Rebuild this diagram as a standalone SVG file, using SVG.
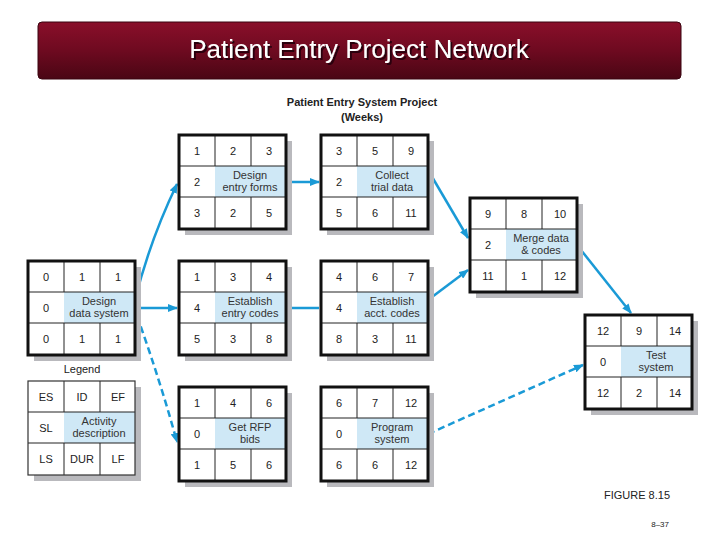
<svg xmlns="http://www.w3.org/2000/svg" xmlns:xlink="http://www.w3.org/1999/xlink" width="720" height="540" viewBox="0 0 720 540">
<style>
.n{font-family:"Liberation Sans",Arial,sans-serif;font-size:11px;fill:#222;text-anchor:middle}
.d{font-family:"Liberation Sans",Arial,sans-serif;font-size:11px;fill:#333;text-anchor:middle}
.c{stroke:#1a9ad6;stroke-width:2.5;fill:none}
.dash{stroke-dasharray:7 4}
</style>
<defs>
<linearGradient id="bg" x1="0" y1="0" x2="0" y2="1">
<stop offset="0" stop-color="#8a0f2a"/><stop offset="0.5" stop-color="#6e0a20"/><stop offset="1" stop-color="#4a0614"/>
</linearGradient>
<filter id="sh" x="-5%" y="-20%" width="110%" height="150%"><feDropShadow dx="2" dy="2" stdDeviation="0.5" flood-color="#2a0308"/></filter>
<g id="cells">
<rect x="6" y="6" width="107" height="94" fill="#b9b9bd"/>
<rect x="0" y="0" width="107" height="94" fill="#fff"/>
<rect x="36" y="31" width="71" height="31" fill="#cfe8f6"/>
<path d="M36 0V31M72 0V31M36 62V94M72 62V94M0 31H107M0 62H36M36 62H107" stroke="#222" stroke-width="1" fill="none"/>
</g>
<g id="frame"><use xlink:href="#cells"/><rect x="0" y="0" width="107" height="94" fill="none" stroke="#111" stroke-width="3"/></g>
<g id="lframe"><use xlink:href="#cells"/><rect x="0" y="0" width="107" height="94" fill="none" stroke="#333" stroke-width="1.2"/></g>
<marker id="ah" markerWidth="10" markerHeight="8" refX="9" refY="4" orient="auto" markerUnits="userSpaceOnUse"><path d="M0 0L10 4L0 8z" fill="#1a9ad6"/></marker>
</defs>
<rect width="720" height="540" fill="#fff"/>
<g id="title">
<rect x="38" y="22" width="643" height="57" rx="4" fill="url(#bg)" stroke="#3a0510"/>
<text x="359" y="58" font-family="Liberation Sans,Arial,sans-serif" font-size="26" fill="#fff" text-anchor="middle" filter="url(#sh)">Patient Entry Project Network</text>
</g>
<text x="362" y="106" font-family="Liberation Sans,Arial,sans-serif" font-size="11" font-weight="bold" fill="#222" text-anchor="middle">Patient Entry System Project</text>
<text x="362" y="121" font-family="Liberation Sans,Arial,sans-serif" font-size="11" font-weight="bold" fill="#222" text-anchor="middle">(Weeks)</text>

<g id="connectors">
<path class="c" d="M286 182H319" marker-end="url(#ah)"/>
<path class="c" d="M428 170L468 238" marker-end="url(#ah)"/>
<path class="c" d="M428 300L468 270" marker-end="url(#ah)"/>
<path class="c" d="M577 245L631 313" marker-end="url(#ah)"/>
<path class="c" d="M135 308H177" marker-end="url(#ah)"/>
<path class="c" d="M286 308H319"/>
<path class="c" d="M135 300Q150 240 177 184" marker-end="url(#ah)"/>
<path class="c dash" d="M137 316Q160 380 177 442" marker-end="url(#ah)"/>
<path class="c dash" d="M428 434L583 365" marker-end="url(#ah)"/>
</g>

<g id="design-entry-forms" transform="translate(179,135)"><use xlink:href="#frame"/>
<text class="n" x="18" y="20">1</text><text class="n" x="54" y="20">2</text><text class="n" x="90" y="20">3</text>
<text class="n" x="18" y="51">2</text><text class="d" x="71" y="44">Design</text><text class="d" x="71" y="56">entry forms</text>
<text class="n" x="18" y="82">3</text><text class="n" x="54" y="82">2</text><text class="n" x="90" y="82">5</text></g>

<g id="collect-trial-data" transform="translate(321,135)"><use xlink:href="#frame"/>
<text class="n" x="18" y="20">3</text><text class="n" x="54" y="20">5</text><text class="n" x="90" y="20">9</text>
<text class="n" x="18" y="51">2</text><text class="d" x="71" y="44">Collect</text><text class="d" x="71" y="56">trial data</text>
<text class="n" x="18" y="82">5</text><text class="n" x="54" y="82">6</text><text class="n" x="90" y="82">11</text></g>

<g id="merge-data" transform="translate(470,198)"><use xlink:href="#frame"/>
<text class="n" x="18" y="20">9</text><text class="n" x="54" y="20">8</text><text class="n" x="90" y="20">10</text>
<text class="n" x="18" y="51">2</text><text class="d" x="71" y="44">Merge data</text><text class="d" x="71" y="56">&amp; codes</text>
<text class="n" x="18" y="82">11</text><text class="n" x="54" y="82">1</text><text class="n" x="90" y="82">12</text></g>

<g id="design-data-system" transform="translate(28,261)"><use xlink:href="#frame"/>
<text class="n" x="18" y="20">0</text><text class="n" x="54" y="20">1</text><text class="n" x="90" y="20">1</text>
<text class="n" x="18" y="51">0</text><text class="d" x="71" y="44">Design</text><text class="d" x="71" y="56">data system</text>
<text class="n" x="18" y="82">0</text><text class="n" x="54" y="82">1</text><text class="n" x="90" y="82">1</text></g>

<g id="establish-entry-codes" transform="translate(179,261)"><use xlink:href="#frame"/>
<text class="n" x="18" y="20">1</text><text class="n" x="54" y="20">3</text><text class="n" x="90" y="20">4</text>
<text class="n" x="18" y="51">4</text><text class="d" x="71" y="44">Establish</text><text class="d" x="71" y="56">entry codes</text>
<text class="n" x="18" y="82">5</text><text class="n" x="54" y="82">3</text><text class="n" x="90" y="82">8</text></g>

<g id="establish-acct-codes" transform="translate(321,261)"><use xlink:href="#frame"/>
<text class="n" x="18" y="20">4</text><text class="n" x="54" y="20">6</text><text class="n" x="90" y="20">7</text>
<text class="n" x="18" y="51">4</text><text class="d" x="71" y="44">Establish</text><text class="d" x="71" y="56">acct. codes</text>
<text class="n" x="18" y="82">8</text><text class="n" x="54" y="82">3</text><text class="n" x="90" y="82">11</text></g>

<g id="test-system" transform="translate(585,315)"><use xlink:href="#frame"/>
<text class="n" x="18" y="20">12</text><text class="n" x="54" y="20">9</text><text class="n" x="90" y="20">14</text>
<text class="n" x="18" y="51">0</text><text class="d" x="71" y="44">Test</text><text class="d" x="71" y="56">system</text>
<text class="n" x="18" y="82">12</text><text class="n" x="54" y="82">2</text><text class="n" x="90" y="82">14</text></g>

<text class="n" x="82" y="373">Legend</text>
<g id="legend" transform="translate(28,381)"><use xlink:href="#lframe"/>
<text class="n" x="18" y="20">ES</text><text class="n" x="54" y="20">ID</text><text class="n" x="90" y="20">EF</text>
<text class="n" x="18" y="51">SL</text><text class="d" x="71" y="44">Activity</text><text class="d" x="71" y="56">description</text>
<text class="n" x="18" y="82">LS</text><text class="n" x="54" y="82">DUR</text><text class="n" x="90" y="82">LF</text></g>

<g id="get-rfp-bids" transform="translate(179,387)"><use xlink:href="#frame"/>
<text class="n" x="18" y="20">1</text><text class="n" x="54" y="20">4</text><text class="n" x="90" y="20">6</text>
<text class="n" x="18" y="51">0</text><text class="d" x="71" y="44">Get RFP</text><text class="d" x="71" y="56">bids</text>
<text class="n" x="18" y="82">1</text><text class="n" x="54" y="82">5</text><text class="n" x="90" y="82">6</text></g>

<g id="program-system" transform="translate(321,387)"><use xlink:href="#frame"/>
<text class="n" x="18" y="20">6</text><text class="n" x="54" y="20">7</text><text class="n" x="90" y="20">12</text>
<text class="n" x="18" y="51">0</text><text class="d" x="71" y="44">Program</text><text class="d" x="71" y="56">system</text>
<text class="n" x="18" y="82">6</text><text class="n" x="54" y="82">6</text><text class="n" x="90" y="82">12</text></g>

<text x="604" y="499" font-family="Liberation Sans,Arial,sans-serif" font-size="11" fill="#222">FIGURE 8.15</text>
<text x="669" y="527" font-family="Liberation Sans,Arial,sans-serif" font-size="8" fill="#222" text-anchor="end">8–37</text>
</svg>
